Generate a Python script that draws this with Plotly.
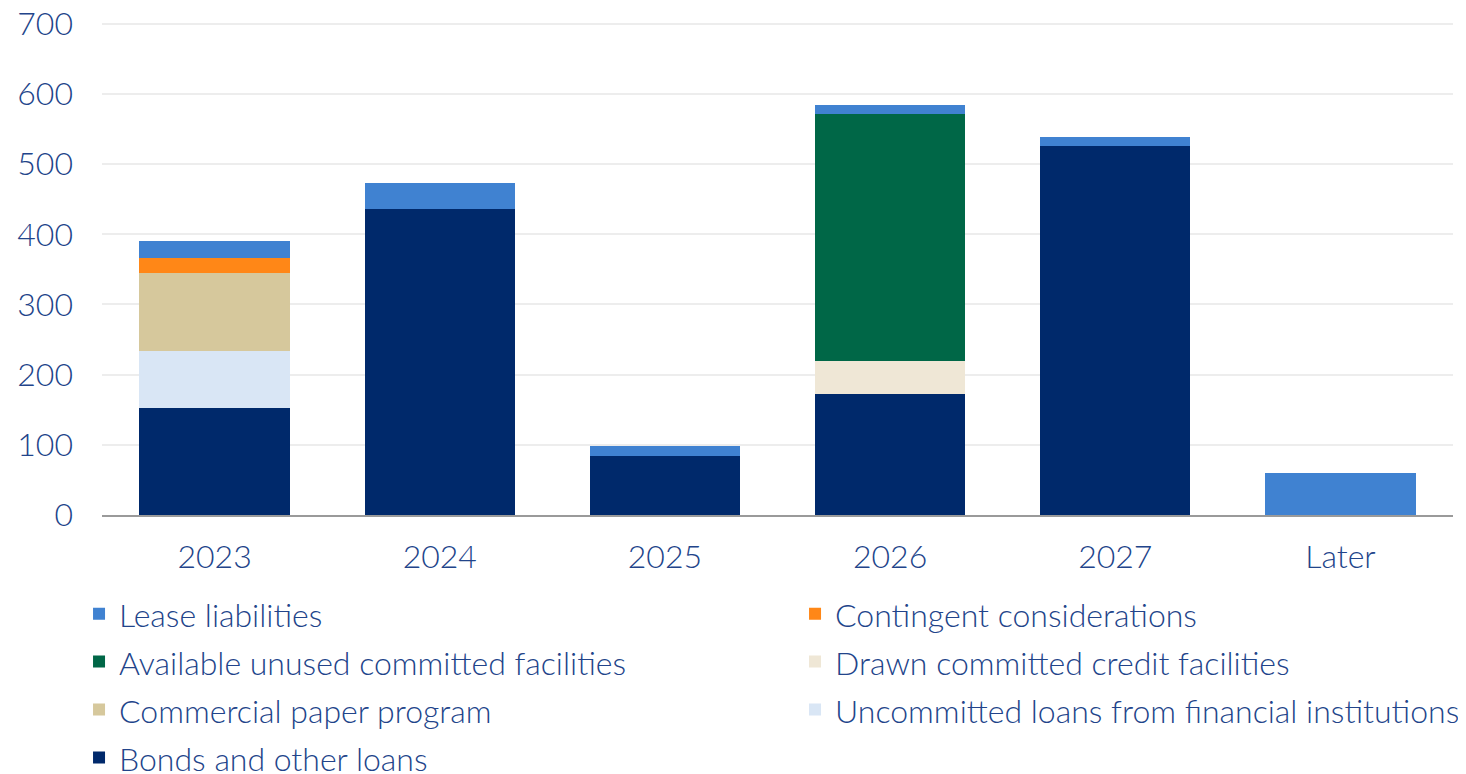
import plotly.graph_objects as go

categories = ["2023", "2024", "2025", "2026", "2027", "Later"]

bonds = [152, 436, 84, 172, 526, 0]
uncommitted = [82, 0, 0, 0, 0, 0]
commercial_paper = [111, 0, 0, 0, 0, 0]
drawn_committed = [0, 0, 0, 48, 0, 0]
available_unused = [0, 0, 0, 352, 0, 0]
contingent = [21, 0, 0, 0, 0, 0]
lease = [24, 37, 15, 12, 12, 60]

series = [
    ("Bonds and other loans", bonds, "#00296B"),
    ("Uncommitted loans from financial institutions", uncommitted, "#D9E6F5"),
    ("Commercial paper program", commercial_paper, "#D6C89C"),
    ("Drawn committed credit facilities", drawn_committed, "#EFE7D6"),
    ("Available unused committed facilities", available_unused, "#006747"),
    ("Contingent considerations", contingent, "#FF8717"),
    ("Lease liabilities", lease, "#4082D1"),
]

text_color = "#22448A"
font_family = "Lato, 'Open Sans', sans-serif"

fig = go.Figure()
for name, vals, color in series:
    fig.add_trace(go.Bar(
        x=categories, y=vals,
        name="<span style='font-size:32px'>" + name + "</span>",
        hovertemplate=name + ": %{y}<extra></extra>",
        marker=dict(color=color, line=dict(width=0)),
    ))

fig.update_layout(
    barmode="stack",
    bargap=0.333,
    width=1458, height=766,
    paper_bgcolor="white", plot_bgcolor="white",
    margin=dict(l=94, r=13, t=13, b=259, autoexpand=False),
    font=dict(family=font_family, color=text_color, size=32, weight=300),
    showlegend=True,
    legend=dict(
        orientation="h",
        traceorder="reversed",
        x=-0.017, y=-0.141, xanchor="left", yanchor="top",
        entrywidth=671, entrywidthmode="pixels",
        font=dict(size=34.6, color=text_color, family=font_family, weight=300),
        tracegroupgap=0, itemclick=False,
    ),
    xaxis=dict(
        showgrid=False, automargin=False,
        showline=True, linecolor="#9A9A9A", linewidth=2,
        tickfont=dict(size=32, color=text_color, family=font_family, weight=300),
        ticklabelstandoff=13,
    ),
    yaxis=dict(
        range=[0, 704], tickvals=[0, 100, 200, 300, 400, 500, 600, 700],
        showgrid=True, gridcolor="#EDEDED", gridwidth=2,
        zeroline=False, automargin=False, ticklabeloverflow="allow",
        tickfont=dict(size=32, color=text_color, family=font_family, weight=300),
        ticklabelstandoff=28,
    ),
)

fig.write_html("out.html")
